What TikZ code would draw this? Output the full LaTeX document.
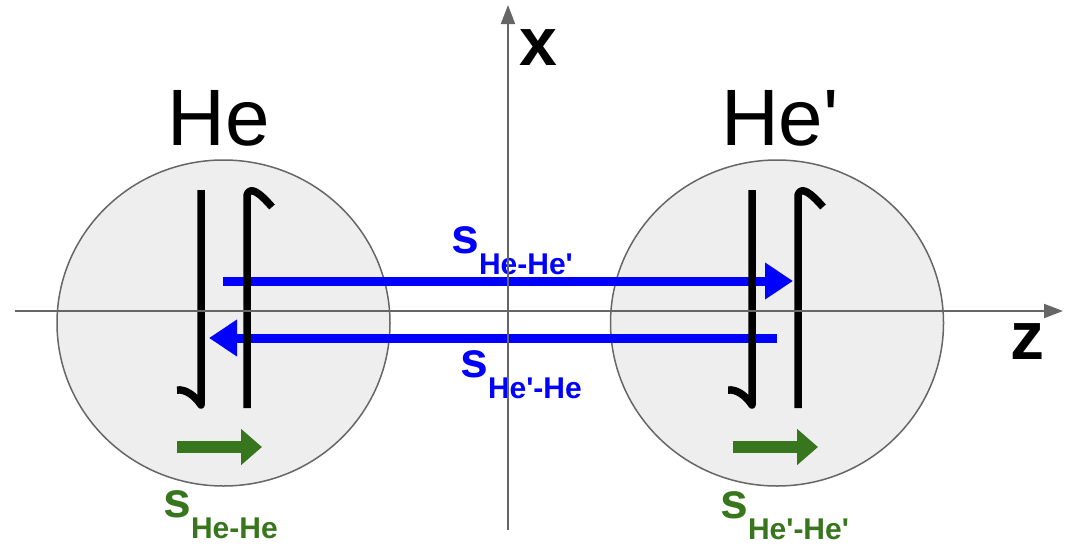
\documentclass[tikz,border=0pt]{standalone}
\usepackage{fontspec}
\setmainfont{Liberation Sans}
\usetikzlibrary{positioning,arrows.meta,shapes.geometric}
\definecolor{axisgray}{HTML}{666666}
\definecolor{atomfill}{HTML}{EEEEEE}
\definecolor{spinblue}{HTML}{0000FF}
\definecolor{spingreen}{HTML}{38761D}
\newcommand{\prm}{\textquotesingle}
\newcommand{\spinlab}[1]{s\raisebox{-21pt}{\fontsize{30}{30}\selectfont #1}}

\begin{document}
\begin{tikzpicture}[
  x=1pt, y=-1pt, >=Latex,
  atom/.style={draw=axisgray, line width=1.5pt, fill=atomfill, ellipse, minimum width=333pt, minimum height=326pt, inner sep=0pt},
  bar/.style={line width=7.5pt, line join=round},
  axis/.style={draw=axisgray, line width=2pt, -{Triangle[length=19pt, width=14pt]}},
  hop/.style={draw=spinblue, line width=9pt, -{Triangle[length=28pt, width=35pt]}},
  self/.style={draw=spingreen, line width=12pt, -{Triangle[length=21pt, width=35pt]}},
  title/.style={font=\fontsize{80}{80}\selectfont, inner sep=0pt},
  axlab/.style={font=\fontsize{68}{68}\selectfont\bfseries, inner sep=0pt, anchor=base},
  slab/.style={font=\fontsize{50}{50}\selectfont\bfseries, inner sep=0pt, anchor=base west},
]
  \useasboundingbox (0,0) rectangle (1075,557);
  % atoms
  \node[atom] (heL) at (223.5,323) {};
  \node[atom] (heR) at (777,323) {};
  \node[title, anchor=base] (labL) at (219,145) {He};
  \node[title, anchor=base west] (labR) at (721,145) {He\prm};
  % hopping between the atoms
  \coordinate (hopLa) at (223,281);
  \coordinate (hopLb) at (793,281);
  \coordinate (hopRa) at (777,338);
  \coordinate (hopRb) at (209,338);
  \draw[hop] (hopLa) -- (hopLb);
  \draw[hop] (hopRa) -- (hopRb);
  % integral bars
  \draw[bar] (201,190) -- (201,405) .. controls (195,396) and (186,389) .. (177,390);
  \draw[bar] (247,408) -- (247,195) .. controls (250,186) and (259,192) .. (272,207);
  \draw[bar] (752,190) -- (752,405) .. controls (746,396) and (737,389) .. (728,390);
  \draw[bar] (798,408) -- (798,195) .. controls (801,186) and (810,192) .. (823,207);
  % on-site terms
  \coordinate (selfLa) at (177,447);
  \coordinate (selfLb) at (262,447);
  \coordinate (selfRa) at (733,447);
  \coordinate (selfRb) at (818,447);
  \draw[self] (selfLa) -- (selfLb);
  \draw[self] (selfRa) -- (selfRb);
  % labels
  \node[slab, spinblue] (sLR) at (451,253) {\spinlab{He-He\prm}};
  \node[slab, spinblue] (sRL) at (460,377) {\spinlab{He\prm-He}};
  \node[slab, spingreen] (sLL) at (163,517) {\spinlab{He-He}};
  \node[slab, spingreen] (sRR) at (720,518) {\spinlab{He\prm-He\prm}};
  % axes
  \coordinate (zS) at (15,311);
  \coordinate (zE) at (1063,311);
  \coordinate (xS) at (508,530);
  \coordinate (xE) at (508,5);
  \draw[axis] (zS) -- (zE);
  \draw[axis] (xS) -- (xE);
  \node[axlab] (xlab) at (538,65) {x};
  \node[axlab] (zlab) at (1027,359) {z};
\end{tikzpicture}
\end{document}
